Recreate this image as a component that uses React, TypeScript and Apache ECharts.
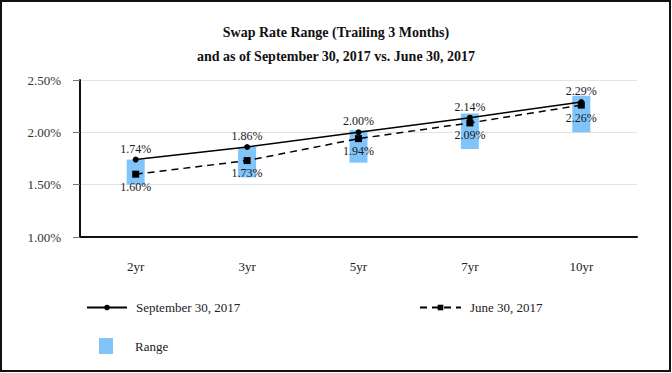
import React, { useEffect, useRef } from "react";
import * as echarts from "echarts";

const categories = ["2yr", "3yr", "5yr", "7yr", "10yr"];
const sep2017 = [1.74, 1.86, 2.0, 2.14, 2.29];
const jun2017 = [1.6, 1.73, 1.94, 2.09, 2.26];
const rangeLow = [1.5, 1.57, 1.71, 1.84, 2.0];
const rangeHigh = [1.74, 1.86, 2.02, 2.18, 2.35];
const titleLines = ["Swap Rate Range (Trailing 3 Months)", "and as of September 30, 2017 vs. June 30, 2017"];
const seriesNames = ["September 30, 2017", "June 30, 2017", "Range"];

const FONT = "'Liberation Serif', 'Times New Roman', serif";

export default function App() {
  const ref = useRef<HTMLDivElement>(null);
  useEffect(() => {
    if (!ref.current) return;
    const chart = echarts.init(ref.current, undefined, { renderer: "svg" });
    const pct = (v: number) => Number(v).toFixed(2) + "%";
    chart.setOption({
      animation: false,
      backgroundColor: "#fff",
      textStyle: { fontFamily: FONT },
      title: {
        text: titleLines.join("\n"),
        left: "center",
        top: 15,
        textStyle: { fontFamily: FONT, fontSize: 14, fontWeight: "bold", color: "#111", lineHeight: 24 },
      },
      graphic: [
        {
          type: "rect",
          shape: { x: 1, y: 1, width: 669, height: 370 },
          style: { fill: "none", stroke: "#111", lineWidth: 2 },
          silent: true,
        },
      ],
      legend: [
        {
          data: [seriesNames[0]],
          left: 81,
          top: 296,
          itemWidth: 40,
          itemHeight: 7,
          textStyle: { fontFamily: FONT, fontSize: 13, color: "#222", padding: [0, 0, 0, 4] },
        },
        {
          data: [seriesNames[1]],
          left: 414,
          top: 296,
          itemWidth: 41,
          itemHeight: 7,
          textStyle: { fontFamily: FONT, fontSize: 13, color: "#222", padding: [0, 0, 0, 4] },
        },
        {
          data: [{ name: seriesNames[2], icon: "rect" }],
          left: 94,
          top: 333,
          itemWidth: 14,
          itemHeight: 16,
          textStyle: { fontFamily: FONT, fontSize: 13, color: "#222", padding: [0, 0, 0, 17] },
        },
      ],
      grid: { left: 80, right: 35, top: 80, bottom: 136 },
      xAxis: {
        type: "category",
        data: categories,
        axisLine: { lineStyle: { color: "#111", width: 2 } },
        axisTick: { alignWithLabel: true, length: 5, lineStyle: { color: "#777" } },
        axisLabel: { fontFamily: FONT, fontSize: 13, color: "#222", margin: 23 },
      },
      yAxis: {
        type: "value",
        min: 1,
        max: 2.5,
        interval: 0.5,
        axisLine: { show: true, lineStyle: { color: "#111", width: 2 } },
        axisTick: { show: true, length: 7, lineStyle: { color: "#777" } },
        axisLabel: { fontFamily: FONT, fontSize: 13, color: "#333", margin: 19, formatter: pct },
        splitLine: { lineStyle: { color: "#e4e4e4", width: 1 } },
      },
      series: [
        {
          name: "base",
          type: "bar",
          stack: "range",
          barWidth: 18,
          data: rangeLow,
          itemStyle: { color: "transparent" },
          silent: true,
        },
        {
          name: seriesNames[2],
          type: "bar",
          stack: "range",
          barWidth: 18,
          data: rangeHigh.map((h, i) => +(h - rangeLow[i]).toFixed(2)),
          itemStyle: { color: "#80c4f9" },
        },
        {
          name: seriesNames[0],
          type: "line",
          data: sep2017,
          symbol: "circle",
          symbolSize: 6,
          itemStyle: { color: "#000" },
          lineStyle: { color: "#000", width: 1.5 },
          label: {
            show: true,
            position: "top",
            distance: 2,
            formatter: (p: any) => pct(p.value),
            fontFamily: FONT,
            fontSize: 12,
            color: "#1a1a1a",
          },
          z: 5,
        },
        {
          name: seriesNames[1],
          type: "line",
          data: jun2017,
          symbol: "rect",
          symbolSize: 7,
          itemStyle: { color: "#000" },
          lineStyle: { color: "#000", width: 1.5, type: [7, 5] },
          label: {
            show: true,
            position: "bottom",
            distance: 3,
            formatter: (p: any) => pct(p.value),
            fontFamily: FONT,
            fontSize: 12,
            color: "#1a1a1a",
          },
          z: 5,
        },
      ],
    });
    return () => chart.dispose();
  }, []);
  return (
    <div
      ref={ref}
      style={{ position: "absolute", left: 0, top: 0, width: 672, height: 373 }}
    />
  );
}
